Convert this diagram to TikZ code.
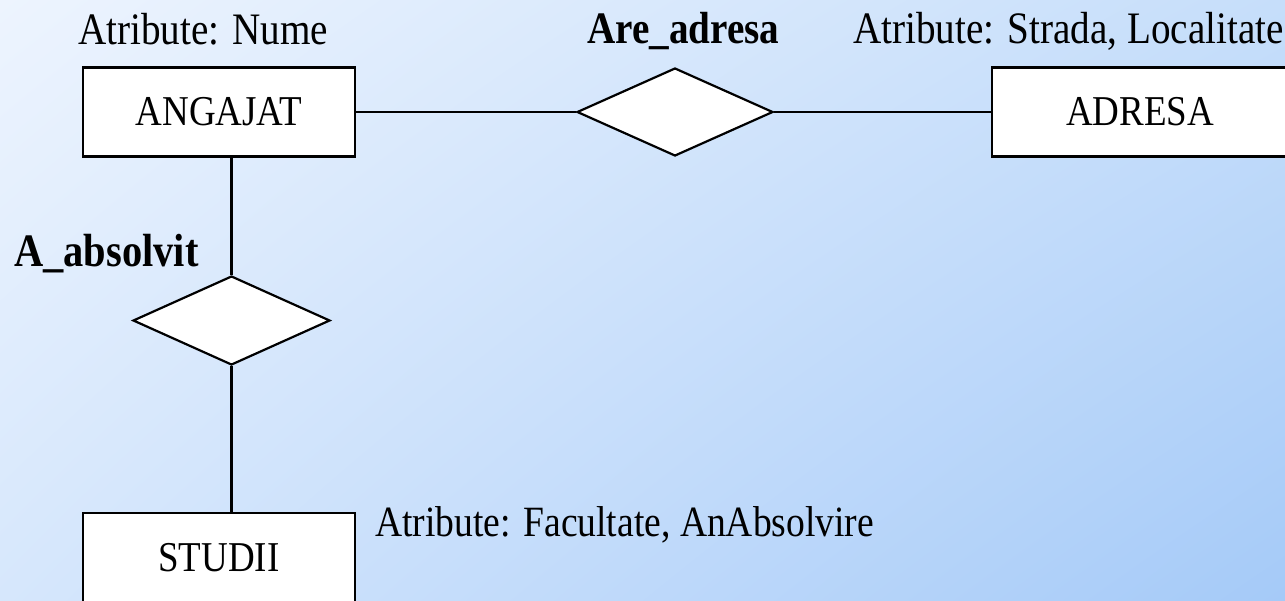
\documentclass[tikz,border=0pt]{standalone}
\usepackage{fontspec}
\setmainfont{Liberation Serif}[FakeStretch=0.87]
\usetikzlibrary{shapes.geometric,shadings}

\definecolor{bgUL}{HTML}{EDF4FE}
\definecolor{bgUR}{HTML}{C6DEFA}
\definecolor{bgLL}{HTML}{D6E7FC}
\definecolor{bgLR}{HTML}{A5CAF8}

\tikzset{
  entity/.style={draw=black, fill=white, line width=2.2pt, rectangle,
    minimum width=272pt, minimum height=89pt, inner sep=0pt,
    font=\fontsize{42.5}{50}\selectfont},
  relation/.style={draw=black, fill=white, line width=2.2pt, diamond,
    inner sep=0pt, minimum width=197pt, minimum height=89pt},
  attrlabel/.style={anchor=base west, inner sep=0pt,
    font=\fontsize{45}{54}\selectfont},
  rellabel/.style={anchor=base west, inner sep=0pt,
    font=\fontsize{45}{54}\selectfont\bfseries},
  link/.style={draw=black, line width=2.2pt}
}

\begin{document}
\begin{tikzpicture}[x=1pt, y=-1pt]
  % page frame and background gradient
  \useasboundingbox (0,0) rectangle (1285,600);
  \clip (0,0) rectangle (1285,600);
  \shade[upper left=bgUL, upper right=bgUR, lower left=bgLL, lower right=bgLR]
    (0,0) rectangle (1285,600);

  % entities
  \node[entity] (ang) at (219,112) {ANGAJAT};
  \node[entity, minimum width=296pt] (adr) at (1140,112) {ADRESA};
  \node[entity] (stu) at (219,557.5) {STUDII};

  % relationships
  \node[relation, minimum width=196pt, minimum height=88pt] (are) at (675,112) {};
  \node[relation] (abs) at (231.5,320.5) {};

  % connectors
  \draw[link] (ang.east) -- (are.west);
  \draw[link] (are.east) -- (adr.west);
  \draw[link] (abs.north |- ang.south) -- (abs.north);
  \draw[link] (abs.south) -- (abs.south |- stu.north);

  % labels
  \node[attrlabel] (tnume) at (78,44) {Atribute: Nume};
  \node[rellabel] (tare) at (587,43) {Are\_adresa};
  \node[attrlabel] (tstr) at (853,43) {Atribute: Strada, Localitate};
  \node[rellabel, font=\fontsize{46.5}{54}\selectfont\bfseries] (tabs) at (14,266) {A\_absolvit};
  \node[attrlabel, font=\fontsize{43.2}{52}\selectfont] (tfac) at (375,536) {Atribute: Facultate, AnAbsolvire};
\end{tikzpicture}
\end{document}
